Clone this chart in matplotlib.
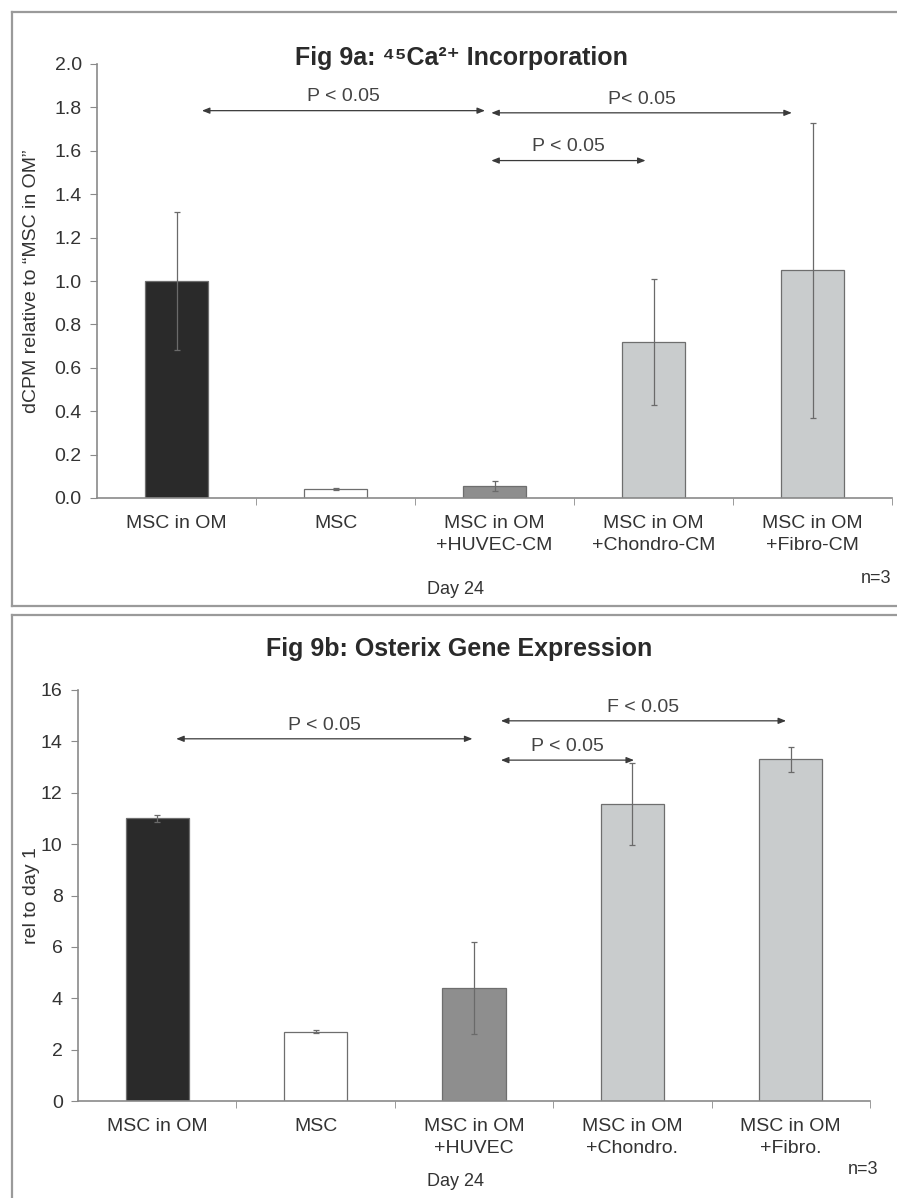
import numpy as np
import matplotlib
matplotlib.use("Agg")
import matplotlib.pyplot as plt
from matplotlib.lines import Line2D

plt.rcParams['font.family'] = ['Liberation Sans', 'DejaVu Sans']

# Fig 9a: 45Ca2+ incorporation, relative to "MSC in OM"
ca_labels = ["MSC in OM", "MSC", "MSC in OM\n+HUVEC-CM", "MSC in OM\n+Chondro-CM", "MSC in OM\n+Fibro-CM"]
ca_values = [1.00, 0.04, 0.055, 0.72, 1.05]
ca_errors = [0.32, 0.005, 0.022, 0.29, 0.68]

# Fig 9b: Osterix gene expression, relative to day 1
osx_labels = ["MSC in OM", "MSC", "MSC in OM\n+HUVEC", "MSC in OM\n+Chondro.", "MSC in OM\n+Fibro."]
osx_values = [11.0, 2.7, 4.4, 11.55, 13.3]
osx_errors = [0.12, 0.06, 1.8, 1.6, 0.5]

bar_colors = ["#2a2a2a", "#ffffff", "#8e8e8e", "#c9cccd", "#c9cccd"]

# significance brackets: (x start, x end, y, label)
ca_sig = [(0.16, 1.94, 1.785, "P < 0.05"),
          (1.98, 3.87, 1.775, "P< 0.05"),
          (1.98, 2.95, 1.555, "P < 0.05")]
osx_sig = [(0.12, 1.99, 14.1, "P < 0.05"),
           (2.17, 3.97, 14.8, "F < 0.05"),
           (2.17, 3.01, 13.27, "P < 0.05")]

W, H = 897, 1198
fig = plt.figure(figsize=(W / 100, H / 100), dpi=100)

axis_col = "#8a8a8a"
text_col = "#333333"


def px_rect(left, top, right, bottom):
    return [left / W, 1 - bottom / H, (right - left) / W, (bottom - top) / H]


def draw_panel(ax, labels, values, errors, sig, ymax, ystep, fmt, ylabel):
    x = np.arange(len(values))
    ax.bar(x, values, width=0.4, color=bar_colors, edgecolor="#6e6e6e", linewidth=0.9, zorder=2)
    ax.errorbar(x, values, yerr=errors, fmt="none", ecolor="#6a6a6a",
                elinewidth=0.9, capsize=2.5, capthick=0.9, zorder=3)
    ax.set_xlim(-0.5, len(values) - 0.5)
    ax.set_ylim(0, ymax)
    yt = np.arange(0, ymax + ystep / 2, ystep)
    ax.set_yticks(yt)
    ax.set_yticklabels([fmt.format(v) for v in yt], fontsize=14, color=text_col)
    ax.set_xticks(x)
    ax.set_xticklabels(labels, fontsize=14, color=text_col, linespacing=1.4)
    ax.set_xticks(np.arange(0.5, len(values) - 0.4, 1.0), minor=True)
    ax.tick_params(axis="x", which="major", length=0, pad=12)
    ax.tick_params(axis="x", which="minor", length=5, color=axis_col, direction="out")
    ax.tick_params(axis="y", length=5, color=axis_col, direction="out", pad=6)
    for s in ("top", "right"):
        ax.spines[s].set_visible(False)
    for s in ("left", "bottom"):
        ax.spines[s].set_color(axis_col)
        ax.spines[s].set_linewidth(1.2)
    ax.set_ylabel(ylabel, fontsize=14, color=text_col)
    ax.patch.set_alpha(0)
    for x0, x1, y, lab in sig:
        ax.annotate("", xy=(x1, y), xytext=(x0, y),
                    arrowprops=dict(arrowstyle="<|-|>,head_length=0.45,head_width=0.18",
                                    color="#3a3a3a", lw=0.9, shrinkA=0, shrinkB=0))
        ax.text((x0 + x1) / 2, y + ymax * 0.012, lab, ha="center", va="bottom",
                fontsize=14, color="#444444")


# panel frames
frame_col = "#9a9a9a"
for xs, ys in [((12, 12), (12, 606)), ((12, 897), (12, 12)), ((12, 897), (606, 606)),
               ((12, 12), (615, 1198)), ((12, 897), (615, 615))]:
    fig.add_artist(Line2D([v / W for v in xs], [1 - v / H for v in ys],
                          color=frame_col, lw=1.6))

ax1 = fig.add_axes(px_rect(97, 64, 892, 498))
draw_panel(ax1, ca_labels, ca_values, ca_errors, ca_sig, 2.0, 0.2, "{:.1f}",
           "dCPM relative to \u201cMSC in OM\u201d")
ax1.yaxis.set_label_coords(-0.072, 0.5)

ax2 = fig.add_axes(px_rect(78, 690, 870, 1101))
draw_panel(ax2, osx_labels, osx_values, osx_errors, osx_sig, 16, 2, "{:.0f}",
           "rel to day 1")
ax2.yaxis.set_label_coords(-0.048, 0.5)

fig.text(461 / W, 1 - 58 / H, "Fig 9a: \u2074\u2075Ca\u00b2\u207a Incorporation",
         ha="center", va="center", fontsize=18, fontweight="bold", color="#2a2a2a")
fig.text(459 / W, 1 - 649 / H, "Fig 9b: Osterix Gene Expression",
         ha="center", va="center", fontsize=18, fontweight="bold", color="#2a2a2a")

fig.text(455 / W, 1 - 590 / H, "Day 24", ha="center", va="center", fontsize=13, color=text_col)
fig.text(455 / W, 1 - 1182 / H, "Day 24", ha="center", va="center", fontsize=13, color=text_col)
fig.text(876 / W, 1 - 578 / H, "n=3", ha="center", va="center", fontsize=13, color=text_col)
fig.text(863 / W, 1 - 1170 / H, "n=3", ha="center", va="center", fontsize=13, color=text_col)

fig.savefig("out.png", dpi=100, facecolor="white")
